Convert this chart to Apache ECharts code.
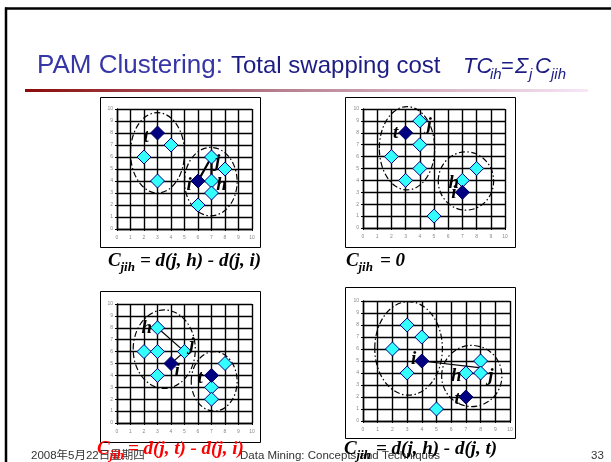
<!DOCTYPE html>
<html><head><meta charset="utf-8">
<script src="https://cdn.jsdelivr.net/npm/echarts@6/dist/echarts.min.js"></script>
<style>html,body{margin:0;padding:0;background:#fff}#c{width:611px;height:462px}</style>
</head><body><div id="c"></div>
<script>
// ---------- data ----------
const tickLabels = ['0','1','2','3','4','5','6','7','8','9','10'];

// panel 1 (top-left)
const p1Light = [[2,6],[4,7],[3,4],[7,6],[8,5],[7,4],[7,3],[6,2]];
const p1Dark  = [[3,8],[6,4]];
const p1Names = [[2.15,7.7,'t'],[5.35,3.7,'i'],[7.45,5.6,'j'],[7.75,3.7,'h']];
const p1Links = [[6,4,7,6],[7,6,7,4]];
const p1Rings = [[3,6.35,2.0,3.35],[6.95,3.95,1.95,2.85]];

// panel 2 (top-right)
const p2Light = [[4,9],[4,7],[2,6],[4,5],[3,4],[5,1],[7,4],[8,5]];
const p2Dark  = [[3,8],[7,3]];
const p2Names = [[2.3,8.0,'t'],[4.65,8.65,'j'],[6.4,3.8,'h'],[6.4,2.9,'i']];
const p2Links = [];
const p2Rings = [[3.1,6.7,1.95,3.5],[7.25,3.95,1.95,2.45]];

// panel 3 (bottom-left)
const p3Light = [[3,8],[2,6],[3,6],[5,6],[3,4],[8,5],[7,3],[7,2]];
const p3Dark  = [[4,5],[7,4]];
const p3Names = [[2.2,7.95,'h'],[5.55,6.55,'j'],[4.45,4.4,'i'],[6.15,3.8,'t']];
const p3Links = [[3,8,5,6],[4,5,5,6]];
const p3Rings = [[3.5,6.2,2.3,3.3],[7.2,3.5,1.7,2.5]];

// panel 4 (bottom-right)
const p4Light = [[3,8],[4,7],[2,6],[3,4],[5,1],[7,4],[8,5],[8,4]];
const p4Dark  = [[4,5],[7,2]];
const p4Names = [[3.45,5.15,'i'],[6.35,3.75,'h'],[8.7,3.75,'j'],[6.4,1.85,'t']];
const p4Links = [[4,5,7.9,4.45]];
const p4Rings = [[3.1,6.05,2.3,3.9],[7.4,3.75,2.05,2.55]];

// ---------- layout ----------
const grids = [
  {left:117, top:109, width:135, height:120},
  {left:363, top:109, width:142, height:119},
  {left:117, top:304, width:135, height:119},
  {left:363, top:301, width:147, height:120}
];
const frames = [[100,97,160,150],[345,97,170,150],[100,291,160,151],[345,287,170,151]];
const linkWidths = [2.2, 1, 1.2, 1.2];

const chart = echarts.init(document.getElementById('c'), null, {renderer:'canvas'});

function axis(k, isX){
  return {
    type:'value', gridIndex:k, min:0, max:10, interval:1,
    axisLine:{show:true, onZero:false, lineStyle:{color:'#000', width:1.4}},
    axisTick:{show:true, length:2, lineStyle:{color:'#000'}},
    splitLine:{show:true, lineStyle:{color:'#000', width:1.4}},
    axisLabel:{fontSize:5, color:'#888', margin: isX?6:4,
      formatter:(v)=>tickLabels[Math.round(v)]}
  };
}

function ringItem(params, api){
  const c = api.coord([api.value(0), api.value(1)]);
  const s = api.size([api.value(2), api.value(3)]);
  return {type:'ellipse', shape:{cx:c[0], cy:c[1], rx:s[0], ry:s[1]},
    style:{fill:'none', stroke:'#000', lineWidth:1.2, lineDash:[6,2.5,1.5,2.5]}};
}
function linkItemFactory(w){
  return function(params, api){
    const a = api.coord([api.value(0), api.value(1)]);
    const b = api.coord([api.value(2), api.value(3)]);
    return {type:'line', shape:{x1:a[0], y1:a[1], x2:b[0], y2:b[1]},
      style:{stroke:'#000', lineWidth:w}};
  };
}
function nameItemFactory(arr){
  return function(params, api){
    const c = api.coord([api.value(0), api.value(1)]);
    return {type:'text', x:c[0], y:c[1],
      style:{text:arr[params.dataIndex][2], font:'italic bold 19px "Liberation Serif"',
        fill:'#000', align:'center', verticalAlign:'middle'}};
  };
}

const sets = [
  [p1Light,p1Dark,p1Names,p1Links,p1Rings],
  [p2Light,p2Dark,p2Names,p2Links,p2Rings],
  [p3Light,p3Dark,p3Names,p3Links,p3Rings],
  [p4Light,p4Dark,p4Names,p4Links,p4Rings]
];
const series = [];
sets.forEach((s,k)=>{
  const [light,dark,names,links,rings] = s;
  series.push({type:'custom', xAxisIndex:k, yAxisIndex:k, silent:true, z:2,
    data:rings, encode:{x:0,y:1}, renderItem:ringItem});
  series.push({type:'custom', xAxisIndex:k, yAxisIndex:k, silent:true, z:3,
    data:links, encode:{x:[0,2],y:[1,3]}, renderItem:linkItemFactory(linkWidths[k])});
  series.push({type:'scatter', xAxisIndex:k, yAxisIndex:k, silent:true, z:4,
    symbol:'diamond', symbolSize:14, data:light,
    itemStyle:{color:'#33FFFF', borderColor:'#000080', borderWidth:1, opacity:1}});
  series.push({type:'scatter', xAxisIndex:k, yAxisIndex:k, silent:true, z:4,
    symbol:'diamond', symbolSize:14, data:dark,
    itemStyle:{color:'#000080', borderColor:'#000060', borderWidth:1, opacity:1}});
  series.push({type:'custom', xAxisIndex:k, yAxisIndex:k, silent:true, z:5,
    data:names.map(d=>[d[0],d[1]]), encode:{x:0,y:1}, renderItem:nameItemFactory(names)});
});

// ---------- text helpers ----------
function txt(x, base, text, size, family, style, color, extra){
  const ratio = family.indexOf('Serif')>=0 ? 0.338 : 0.347;
  return Object.assign({type:'text', x:x, y:base - ratio*size, z:10, silent:true,
    style:{text:text, font:style+' '+size+'px '+family, fill:color, align:'left', verticalAlign:'middle'}}, extra||{});
}
const SANS = '"Liberation Sans", Arial, sans-serif';
const SERIF = '"Liberation Serif", "Times New Roman", serif';
const CJK = '"Liberation Sans", "Noto Sans CJK SC", sans-serif';

function caption(x, base, rest, color, restDx){
  return [
    txt(x, base, 'C', 19, SERIF, 'italic bold', color),
    txt(x+12.5, base+4, 'jih', 13, SERIF, 'italic bold', color),
    txt(x+restDx, base, rest, 19, SERIF, 'italic bold', color)
  ];
}

const NAVY = '#1C1C84';
const graphics = [
  {type:'line', silent:true, shape:{x1:5, y1:8.5, x2:611, y2:8.5}, style:{stroke:'#000', lineWidth:2.5}},
  {type:'line', silent:true, shape:{x1:6, y1:7.5, x2:6, y2:462}, style:{stroke:'#000', lineWidth:2.5}},
  {type:'rect', silent:true, shape:{x:25, y:89, width:563, height:3},
    style:{fill:new echarts.graphic.LinearGradient(0,0,1,0,[
      {offset:0,color:'#8B0A0A'},{offset:0.45,color:'#B57F8E'},{offset:1,color:'#F8E6F6'}])}},
  txt(37, 75, 'PAM Clustering:', 26, SANS, 'normal', '#3636A6'),
  txt(231, 75, 'Total swapping cost', 24, SANS, 'normal', NAVY),
  txt(463, 75, 'TC', 22, SANS, 'italic', NAVY),
  txt(490, 80, 'ih', 15, SANS, 'italic', NAVY),
  txt(501, 75, '=', 22, SANS, 'normal', NAVY),
  txt(515, 75, '\u03A3', 22, SANS, 'italic', NAVY),
  txt(529, 80, 'j', 15, SANS, 'italic', NAVY),
  txt(535, 75, 'C', 22, SANS, 'italic', NAVY),
  txt(551, 80, 'jih', 15, SANS, 'italic', NAVY),
  txt(31, 460, '2008年5月22日星期四', 11.5, CJK, 'normal', '#333'),
  txt(240, 460, 'Data Mining: Concepts and Techniques', 11.5, SANS, 'normal', '#333'),
  txt(591, 460, '33', 11.5, SANS, 'normal', '#333')
];
frames.forEach(f=>graphics.push({type:'rect', silent:true, z:1,
  shape:{x:f[0]+0.5, y:f[1]+0.5, width:f[2], height:f[3]}, style:{fill:'none', stroke:'#000', lineWidth:1}}));
graphics.push(...caption(108, 268, '= d(j, h) - d(j, i)', '#000', 32));
graphics.push(...caption(346, 268, '= 0', '#000', 34));
graphics.push(...caption(97, 456, '= d(j, t) - d(j, i)', '#FF0000', 31));
graphics.push(...caption(344, 456, '= d(j, h) - d(j, t)', '#000', 32));

chart.setOption({
  animation:false,
  backgroundColor:'#fff',
  grid:grids.map(g=>Object.assign({containLabel:false}, g)),
  xAxis:grids.map((g,k)=>axis(k,true)),
  yAxis:grids.map((g,k)=>axis(k,false)),
  series:series,
  graphic:{elements:graphics}
});
</script></body></html>
